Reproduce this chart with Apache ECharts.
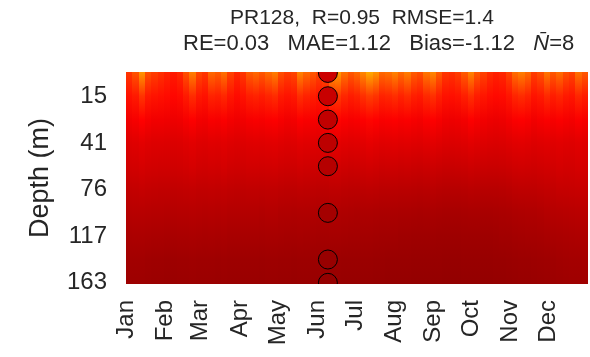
<!DOCTYPE html>
<html><head><meta charset="utf-8">
<script src="https://cdn.jsdelivr.net/npm/echarts@6/dist/echarts.min.js"></script>
<style>html,body{margin:0;padding:0;background:#fff}#c{width:590px;height:357px}</style>
</head><body><div id="c"></div>
<script>
// Month labels and their start day-of-year
const months = ['Jan','Feb','Mar','Apr','May','Jun','Jul','Aug','Sep','Oct','Nov','Dec'];
const monthStartDays = [0,31,59,90,120,151,181,212,243,273,304,334];
// Depth levels (index 0..9), labelled ones
const depthTickLevels = [1,3,5,7,9];
const depthTickLabels = ['15','41','76','117','163'];
// Time bins: 73 bins of 5 days
const binDays = 5;
// Model temperature (°C) per depth level, per 5-day bin
const level0 = [14.5,15.8,18.8,15.6,14.8,14.2,13.6,13.2,13.8,15.6,17.8,15.2,14.5,16.8,16.2,17.2,15.0,13.8,14.5,16.2,16.8,16.0,17.0,17.8,15.6,14.8,15.2,18.0,16.8,16.0,15.0,15.6,18.8,19.2,17.2,16.0,16.8,18.2,19.8,18.8,16.8,17.2,18.0,16.8,17.8,16.2,15.6,17.4,18.2,16.2,14.5,14.2,14.8,16.2,18.0,16.0,15.0,14.0,13.5,13.8,15.0,17.0,17.8,16.8,14.8,15.6,17.4,16.0,17.0,15.6,15.0,17.2,16.0];
const level1 = [12.8,13.2,14.4,13.2,12.9,12.7,12.5,12.3,12.5,13.2,14.0,13.1,12.8,13.6,13.4,13.8,13.0,12.5,12.8,13.4,13.6,13.3,13.7,14.0,13.2,12.9,13.1,14.1,13.6,13.3,13.0,13.2,14.4,14.6,13.8,13.3,13.6,14.2,14.8,14.4,13.6,13.8,14.1,13.6,14.0,13.4,13.2,13.9,14.2,13.4,12.8,12.7,12.9,13.4,14.1,13.3,13.0,12.6,12.4,12.5,13.0,13.7,14.0,13.6,12.9,13.2,13.9,13.3,13.7,13.2,13.0,13.8,13.3];
const level2 = [11.4,11.6,12.0,11.6,11.4,11.4,11.3,11.2,11.3,11.6,11.9,11.5,11.4,11.7,11.6,11.8,11.5,11.3,11.4,11.6,11.7,11.6,11.8,11.9,11.6,11.4,11.5,11.9,11.7,11.6,11.5,11.6,12.0,12.1,11.8,11.6,11.7,11.9,12.2,12.0,11.7,11.8,11.9,11.7,11.8,11.6,11.5,11.8,11.9,11.6,11.3,11.2,11.3,11.5,11.9,11.6,11.4,11.2,11.1,11.2,11.5,11.8,11.9,11.7,11.4,11.6,11.8,11.6,11.8,11.6,11.5,11.8,11.6];
const level3 = [10.4,10.5,10.7,10.5,10.4,10.4,10.35,10.3,10.35,10.5,10.65,10.45,10.4,10.55,10.5,10.6,10.45,10.35,10.4,10.5,10.55,10.5,10.6,10.65,10.5,10.4,10.45,10.65,10.55,10.5,10.45,10.5,10.7,10.75,10.6,10.5,10.55,10.65,10.8,10.7,10.55,10.6,10.65,10.55,10.6,10.5,10.45,10.6,10.65,10.5,10.35,10.3,10.35,10.45,10.65,10.5,10.4,10.3,10.25,10.3,10.45,10.6,10.65,10.55,10.4,10.5,10.6,10.5,10.6,10.5,10.45,10.6,10.5];
const level4 = [9.9,9.95,10.05,9.95,9.9,9.85,9.85,9.8,9.85,9.95,10.05,9.9,9.85,9.95,9.9,10.0,9.85,9.8,9.8,9.9,9.9,9.85,9.9,9.95,9.8,9.75,9.75,9.9,9.8,9.75,9.7,9.7,9.85,9.9,9.75,9.65,9.7,9.8,9.9,9.8,9.65,9.7,9.7,9.6,9.65,9.55,9.5,9.6,9.65,9.55,9.45,9.45,9.5,9.55,9.7,9.6,9.55,9.5,9.5,9.55,9.65,9.8,9.85,9.8,9.75,9.85,9.95,9.9,10.0,9.95,9.95,10.05,10.0];
const level5 = [9.15,9.2,9.25,9.2,9.15,9.1,9.1,9.05,9.1,9.15,9.2,9.1,9.1,9.15,9.1,9.15,9.05,9.0,9.0,9.05,9.05,9.0,9.05,9.05,8.95,8.9,8.9,9.0,8.95,8.9,8.85,8.85,8.95,8.95,8.85,8.8,8.8,8.85,8.9,8.85,8.75,8.75,8.75,8.7,8.7,8.65,8.6,8.65,8.7,8.6,8.55,8.55,8.55,8.6,8.7,8.65,8.6,8.6,8.6,8.65,8.75,8.9,8.95,8.95,8.95,9.05,9.15,9.15,9.25,9.25,9.3,9.35,9.35];
const level6 = [8.55,8.6,8.6,8.55,8.5,8.5,8.45,8.45,8.5,8.5,8.55,8.5,8.45,8.5,8.45,8.5,8.4,8.4,8.4,8.4,8.4,8.35,8.4,8.4,8.3,8.3,8.25,8.3,8.3,8.25,8.2,8.2,8.25,8.25,8.2,8.15,8.1,8.15,8.15,8.1,8.05,8.05,8.05,8.0,8.0,7.95,7.9,7.95,7.95,7.9,7.85,7.85,7.85,7.9,7.95,7.95,7.9,7.9,7.95,8.0,8.05,8.15,8.2,8.25,8.25,8.35,8.45,8.5,8.55,8.6,8.65,8.7,8.7];
const level7 = [8.05,8.1,8.1,8.05,8.0,8.0,7.95,7.95,8.0,8.0,8.05,8.0,7.95,8.0,7.95,8.0,7.9,7.9,7.9,7.9,7.9,7.85,7.9,7.9,7.85,7.8,7.8,7.85,7.8,7.8,7.75,7.75,7.8,7.8,7.75,7.7,7.7,7.7,7.7,7.65,7.6,7.6,7.6,7.55,7.55,7.5,7.5,7.5,7.5,7.45,7.45,7.45,7.45,7.5,7.5,7.5,7.5,7.5,7.55,7.6,7.6,7.7,7.75,7.8,7.8,7.85,7.95,8.0,8.05,8.1,8.15,8.2,8.2];
const level8 = [7.6,7.6,7.6,7.55,7.5,7.5,7.45,7.45,7.5,7.5,7.55,7.5,7.5,7.5,7.45,7.5,7.45,7.45,7.45,7.45,7.45,7.4,7.45,7.45,7.4,7.4,7.35,7.4,7.4,7.35,7.35,7.35,7.35,7.35,7.3,7.3,7.3,7.3,7.3,7.25,7.25,7.2,7.2,7.2,7.2,7.15,7.15,7.15,7.15,7.15,7.1,7.1,7.1,7.15,7.15,7.15,7.15,7.15,7.2,7.2,7.25,7.3,7.35,7.35,7.4,7.45,7.5,7.55,7.6,7.65,7.7,7.7,7.75];
const level9 = [7.4,7.4,7.4,7.35,7.3,7.3,7.25,7.25,7.3,7.3,7.35,7.3,7.3,7.3,7.25,7.3,7.25,7.25,7.25,7.25,7.25,7.2,7.25,7.25,7.2,7.2,7.15,7.2,7.2,7.15,7.15,7.15,7.15,7.15,7.1,7.1,7.1,7.1,7.1,7.05,7.05,7.0,7.0,7.0,7.0,6.95,6.95,6.95,6.95,6.95,6.9,6.9,6.9,6.95,6.95,6.95,6.95,6.95,7.0,7.0,7.05,7.1,7.15,7.15,7.2,7.25,7.3,7.35,7.4,7.45,7.5,7.5,7.55];
// Observations (profile on ~9 Jun)
const obsDay = 159.5;
const obsLevels = [0,1,2,3,4,6,8,9];
const obsValues = [9.6,9.4,9.1,8.9,8.5,7.7,7.15,7.0];
// Colour scale limits (hot colormap)
const cmin = 0, cmax = 32;

const levels = [level0,level1,level2,level3,level4,level5,level6,level7,level8,level9];

function clamp(v){return Math.max(0,Math.min(1,v));}
function hot(T){
  const t = (T - cmin)/(cmax - cmin);
  const r = clamp(t/0.375), g = clamp((t-0.375)/0.375), b = clamp((t-0.75)/0.25);
  return 'rgb(' + Math.round(r*255) + ',' + Math.round(g*255) + ',' + Math.round(b*255) + ')';
}

const cells = [];
const nBins = level0.length;
for (let c = 0; c < nBins; c++) {
  const x0 = c*binDays;
  cells.push([x0, -1, 0, levels[0][c], levels[0][c]]);
  for (let i = 0; i < levels.length - 1; i++) {
    cells.push([x0, i, i+1, levels[i][c], levels[i+1][c]]);
  }
  const last = levels.length - 1;
  cells.push([x0, last, last+1, levels[last][c], levels[last][c]]);
}
const obsData = obsLevels.map((l, k) => [obsDay, l, obsValues[k]]);

const chart = echarts.init(document.getElementById('c'), null, {renderer:'canvas'});
const FF = '"Liberation Sans", Arial, sans-serif';
const TC = '#262626';
chart.setOption({
  animation:false,
  backgroundColor:'#fff',
  title:[
    {text:'PR128,  R=0.95  RMSE=1.4', left:225, top:3, padding:5,
     textStyle:{fontFamily:FF, fontSize:21, fontWeight:'normal', color:TC}},
    {text:'RE=0.03   MAE=1.12   Bias=-1.12   {i|N\u0304}=8', left:178, top:28, padding:5,
     textStyle:{fontFamily:FF, fontSize:22, fontWeight:'normal', color:TC,
       rich:{i:{fontFamily:FF, fontSize:22, fontStyle:'italic', color:TC}}}}
  ],
  grid:{left:126, right:2, top:72, bottom:73},
  xAxis:{type:'value', min:0, max:365,
    axisLine:{show:false}, axisTick:{show:false}, splitLine:{show:false},
    axisLabel:{customValues:monthStartDays, rotate:90, margin:16, fontFamily:FF, fontSize:24, color:TC,
      formatter:(v)=>months[monthStartDays.indexOf(v)]}},
  yAxis:{type:'value', inverse:true, min:-0.04, max:9.05,
    name:'Depth (m)', nameLocation:'middle', nameGap:72,
    nameTextStyle:{fontFamily:FF, fontSize:27, color:TC},
    axisLine:{show:false}, axisTick:{show:false}, splitLine:{show:false},
    axisLabel:{customValues:depthTickLevels, margin:19, fontFamily:FF, fontSize:24, color:TC,
      formatter:(v)=>depthTickLabels[depthTickLevels.indexOf(v)]}},
  series:[
    {type:'custom', clip:true, data:cells, encode:{x:0, y:[1,2]},
     renderItem:function(params, api){
       const p1 = api.coord([api.value(0), api.value(1)]);
       const p2 = api.coord([api.value(0)+binDays, api.value(2)]);
       const x = Math.round(p1[0]), y = Math.round(p1[1]);
       const w = Math.round(p2[0]) - x, h = Math.round(p2[1]) - y;
       return {type:'rect', shape:{x:x, y:y, width:w, height:h},
         style:{fill:{type:'linear', x:0, y:0, x2:0, y2:1,
           colorStops:[{offset:0, color:hot(api.value(3))},{offset:1, color:hot(api.value(4))}]}}};
     }},
    {type:'custom', clip:true, data:obsData, encode:{x:0, y:1}, z:5,
     renderItem:function(params, api){
       const p = api.coord([api.value(0), api.value(1)]);
       return {type:'circle', shape:{cx:p[0], cy:p[1], r:9.5},
         style:{fill:hot(api.value(2)), stroke:'#000', lineWidth:1}};
     }}
  ]
});
</script></body></html>
